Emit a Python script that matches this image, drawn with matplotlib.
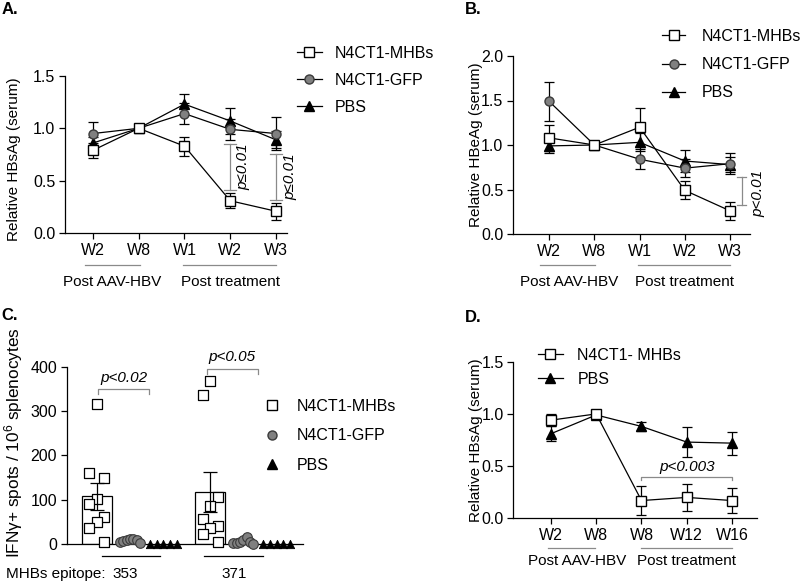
import matplotlib
matplotlib.use('Agg')
import matplotlib.pyplot as plt
from matplotlib.lines import Line2D
import numpy as np

plt.rcParams['font.family'] = ['Liberation Sans', 'DejaVu Sans']
plt.rcParams['mathtext.fontset'] = 'custom'
plt.rcParams['mathtext.rm'] = 'Liberation Sans'
plt.rcParams['mathtext.it'] = 'Liberation Sans:italic'

# ---------------- data ----------------
weeks_ab = ['W2', 'W8', 'W1', 'W2', 'W3']
weeks_d = ['W2', 'W8', 'W8', 'W12', 'W16']
series_names = ['N4CT1-MHBs', 'N4CT1-GFP', 'PBS']

# Panel A: relative HBsAg
a_mhbs = [0.79, 1.00, 0.83, 0.31, 0.21]
a_mhbs_err = [0.07, 0.00, 0.09, 0.07, 0.08]
a_gfp = [0.95, 1.00, 1.14, 0.99, 0.95]
a_gfp_err = [0.11, 0.00, 0.10, 0.10, 0.16]
a_pbs = [0.86, 1.00, 1.23, 1.07, 0.89]
a_pbs_err = [0.06, 0.00, 0.10, 0.12, 0.08]

# Panel B: relative HBeAg
b_mhbs = [1.08, 1.00, 1.20, 0.49, 0.26]
b_mhbs_err = [0.15, 0.00, 0.22, 0.10, 0.10]
b_gfp = [1.49, 1.00, 0.84, 0.74, 0.79]
b_gfp_err = [0.22, 0.00, 0.11, 0.10, 0.12]
b_pbs = [0.99, 1.00, 1.03, 0.82, 0.78]
b_pbs_err = [0.08, 0.00, 0.10, 0.12, 0.08]

# Panel C: IFNg+ spots / 1e6 splenocytes
c_mhbs_353 = [315, 161, 150, 101, 90, 61, 50, 35, 5]
c_gfp_353 = [4, 6, 10, 11, 12, 8, 2]
c_pbs_353 = [0, 0, 0, 0, 0]
c_mhbs_371 = [368, 336, 105, 86, 56, 41, 35, 22, 4]
c_gfp_371 = [2, 3, 5, 8, 15, 4, 1]
c_pbs_371 = [0, 0, 0, 0, 0]
epitopes = ['353', '371']

# Panel D: relative HBsAg, long term
d_mhbs = [0.94, 1.00, 0.17, 0.20, 0.17]
d_mhbs_err = [0.06, 0.00, 0.14, 0.13, 0.12]
d_pbs = [0.81, 0.99, 0.88, 0.73, 0.72]
d_pbs_err = [0.07, 0.00, 0.04, 0.14, 0.11]
d_names = ['N4CT1- MHBs', 'PBS']

# ---------------- figure ----------------
W, H = 800, 583
fig = plt.figure(figsize=(W / 100, H / 100), dpi=100)

TICK = 11.5
LAB = 11
LEG = 11.5
GRAY = '#8a8a8a'
LW = 0.9


def add_ax(l, t, r, b):
    ax = fig.add_axes([l / W, 1 - b / H, (r - l) / W, (b - t) / H])
    ax.spines['top'].set_visible(False)
    ax.spines['right'].set_visible(False)
    for s in ['left', 'bottom']:
        ax.spines[s].set_linewidth(LW)
    ax.tick_params(direction='out', length=4.5, width=LW, labelsize=TICK, pad=2.5)
    ax._hpx = b - t
    return ax


def below(ax, px):
    return -px / ax._hpx


def ftext(x, y, s, **kw):
    fig.text(x / W, 1 - y / H, s, **kw)


styles = [
    dict(marker='s', mfc='white', mec='black', ms=6.5),
    dict(marker='o', mfc='#808080', mec='#3a3a3a', ms=6.5),
    dict(marker='^', mfc='black', mec='black', ms=6.5),
]


def line_series(ax, x, vals, errs, st, z):
    errs = np.array(errs, dtype=float)
    errs[errs == 0] = np.nan
    ax.errorbar(x, vals, yerr=errs, fmt='none', ecolor='black', elinewidth=LW,
                capsize=3.8, capthick=LW, zorder=z)
    ax.plot(x, vals, color='black', lw=LW, zorder=z + 0.5, clip_on=False, **st)


def group_labels(ax, xr1, xr2, c1, c2, dline, dtext):
    tr = ax.get_xaxis_transform()
    for (a, b) in (xr1, xr2):
        ax.plot([a, b], [below(ax, dline)] * 2, color=GRAY, lw=LW, transform=tr, clip_on=False)
    ax.text(c1, below(ax, dtext), 'Post AAV-HBV', transform=tr, ha='center', va='center', fontsize=LAB)
    ax.text(c2, below(ax, dtext), 'Post treatment', transform=tr, ha='center', va='center', fontsize=LAB)


def legend_handles(sts, line=True):
    hs = []
    for st in sts:
        if line:
            hs.append(Line2D([], [], color='black', lw=LW, **st))
        else:
            hs.append(Line2D([], [], ls='none', **st))
    return hs


def vbracket(ax, x, y0, y1, capw=0.12):
    ax.plot([x, x], [y0, y1], color=GRAY, lw=LW, clip_on=False)
    for y in (y0, y1):
        ax.plot([x - capw, x + capw], [y, y], color=GRAY, lw=LW, clip_on=False)


xs = np.arange(5)

# ---------- Panel A ----------
axA = add_ax(65, 75.8, 287, 233.3)
axA.set_xlim(-0.61, 4.24)
axA.set_ylim(0, 1.5)
axA.set_yticks([0, 0.5, 1.0, 1.5])
axA.set_yticklabels(['0.0', '0.5', '1.0', '1.5'])
axA.set_xticks(xs)
axA.set_xticklabels(weeks_ab)
line_series(axA, xs, a_pbs, a_pbs_err, styles[2], 3)
line_series(axA, xs, a_gfp, a_gfp_err, styles[1], 4)
line_series(axA, xs, a_mhbs, a_mhbs_err, styles[0], 5)
axA.set_ylabel('Relative HBsAg (serum)', fontsize=LAB)
axA.yaxis.set_label_coords(-0.198, 0.47)
vbracket(axA, 3, 0.41, 0.85, 0.13)
vbracket(axA, 4, 0.32, 0.76, 0.13)
axA.text(3.28, 0.635, 'p≤0.01', rotation=90, style='italic', fontsize=LAB,
         ha='center', va='center', clip_on=False)
axA.text(4.32, 0.54, 'p≤0.01', rotation=90, style='italic', fontsize=LAB,
         ha='center', va='center', clip_on=False)
group_labels(axA, (-0.17, 1.03), (1.97, 4.0), 0.43, 3.0, 32, 49)
axA.legend(legend_handles(styles), series_names, loc='upper left',
           bbox_to_anchor=(297 / W, 1 - 46 / H), bbox_transform=fig.transFigure,
           frameon=False, fontsize=LEG, handlelength=1.56, handletextpad=0.8,
           labelspacing=0.74, borderpad=0, borderaxespad=0)

# ---------- Panel B ----------
axB = add_ax(513, 56, 750, 234)
axB.set_xlim(-0.8, 4.44)
axB.set_ylim(0, 2.0)
axB.set_yticks([0, 0.5, 1.0, 1.5, 2.0])
axB.set_yticklabels(['0.0', '0.5', '1.0', '1.5', '2.0'])
axB.set_xticks(xs)
axB.set_xticklabels(weeks_ab)
line_series(axB, xs, b_pbs, b_pbs_err, styles[2], 3)
line_series(axB, xs, b_gfp, b_gfp_err, styles[1], 4)
line_series(axB, xs, b_mhbs, b_mhbs_err, styles[0], 5)
axB.set_ylabel('Relative HBeAg (serum)', fontsize=LAB)
axB.yaxis.set_label_coords(-0.127, 0.5)
vbracket(axB, 4.26, 0.33, 0.64, 0.1)
axB.text(4.62, 0.46, 'p<0.01', rotation=90, style='italic', fontsize=LAB,
         ha='center', va='center', clip_on=False)
group_labels(axB, (-0.2, 1.02), (1.97, 4.0), 0.43, 3.0, 31, 48)
axB.legend(legend_handles(styles), series_names, loc='upper left',
           bbox_to_anchor=(662 / W, 1 - 29 / H), bbox_transform=fig.transFigure,
           frameon=False, fontsize=LEG, handlelength=1.45, handletextpad=1.05,
           labelspacing=0.82, borderpad=0, borderaxespad=0)

# ---------- Panel C ----------
axC = add_ax(66.7, 366.7, 303, 544)
axC.set_xlim(-0.9, 6.19)
axC.set_ylim(0, 400)
axC.set_yticks([0, 100, 200, 300, 400])
axC.set_xticks([])
axC.set_ylabel('IFNγ+ spots / 10$^{6}$ splenocytes', fontsize=12.4)
axC.yaxis.set_label_coords(-0.178, 0.57)


def spread(vals):
    vals = np.asarray(vals, dtype=float)
    n = len(vals)
    if vals.max() - vals.min() < 30:
        half = 0.3 if n > 5 else 0.4
        return np.linspace(-half, half, n)
    order = np.argsort(-vals, kind='stable')
    cols = [0, -1, 1]
    off = np.zeros(n)
    for rank, i in enumerate(order):
        off[i] = cols[rank % 3] * 0.225
    return off


groups_c = [
    (0.0, c_mhbs_353, c_gfp_353, c_pbs_353),
    (3.4, c_mhbs_371, c_gfp_371, c_pbs_371),
]
c_styles = [
    dict(marker='s', facecolor='white', edgecolor='black', s=42, linewidths=0.9),
    dict(marker='o', facecolor='#808080', edgecolor='#3a3a3a', s=48, linewidths=0.8),
    dict(marker='^', facecolor='black', edgecolor='black', s=36, linewidths=0.6),
]
for g0, m, gf, pb in groups_c:
    m = np.asarray(m, dtype=float)
    mean = m.mean()
    sem = m.std(ddof=1) / np.sqrt(len(m))
    axC.bar(g0, mean, width=0.9, color='white', edgecolor='black', linewidth=LW, zorder=2)
    axC.errorbar(g0, mean, yerr=sem, fmt='none', ecolor='black', elinewidth=LW,
                 capsize=4.7, capthick=LW, zorder=4)
    for k, vals in enumerate([m, gf, pb]):
        xpos = g0 + k + spread(vals)
        axC.scatter(xpos, vals, zorder=3 + k * 0.1, clip_on=False, **c_styles[k])

# significance brackets
for (xa, xb, yb, ytk, lab, yt) in [(0.04, 1.57, 350, 338, 'p<0.02', 358),
                                     (3.3, 4.84, 395, 384, 'p<0.05', 405)]:
    axC.plot([xa, xa, xb, xb], [ytk, yb, yb, ytk], color=GRAY, lw=LW, clip_on=False)
    axC.text((xa + xb) / 2, yt, lab, style='italic', fontsize=LAB, ha='center',
             va='bottom', clip_on=False)

trC = axC.get_xaxis_transform()
for (a, b) in [(0.15, 1.9), (3.22, 5.0)]:
    axC.plot([a, b], [below(axC, 12)] * 2, color='black', lw=LW, transform=trC, clip_on=False)
axC.text(0.85, below(axC, 30), epitopes[0], transform=trC, ha='center', va='center', fontsize=LAB)
axC.text(4.12, below(axC, 30), epitopes[1], transform=trC, ha='center', va='center', fontsize=LAB)
ftext(6, 574, 'MHBs epitope:', ha='left', va='center', fontsize=LAB)

leg_c = [Line2D([], [], ls='none', marker='s', mfc='white', mec='black', ms=6.5),
         Line2D([], [], ls='none', marker='o', mfc='#808080', mec='#3a3a3a', ms=6.5),
         Line2D([], [], ls='none', marker='^', mfc='black', mec='black', ms=6.5)]
axC.legend(leg_c, series_names, loc='upper left',
           bbox_to_anchor=(265 / W, 1 - 399 / H), bbox_transform=fig.transFigure,
           frameon=False, fontsize=LEG, handlelength=0.9, handletextpad=1.1,
           labelspacing=0.9, borderpad=0, borderaxespad=0)

# ---------- Panel D ----------
axD = add_ax(513.3, 361.7, 757, 518.3)
axD.set_xlim(-0.83, 4.55)
axD.set_ylim(0, 1.5)
axD.set_yticks([0, 0.5, 1.0, 1.5])
axD.set_yticklabels(['0.0', '0.5', '1.0', '1.5'])
axD.set_xticks(xs)
axD.set_xticklabels(weeks_d)
line_series(axD, xs, d_pbs, d_pbs_err, styles[2], 3)
line_series(axD, xs, d_mhbs, d_mhbs_err, styles[0], 5)
axD.set_ylabel('Relative HBsAg (serum)', fontsize=LAB)
axD.yaxis.set_label_coords(-0.124, 0.5)
axD.plot([2, 2, 4, 4], [0.37, 0.40, 0.40, 0.37], color=GRAY, lw=LW)
axD.text(3.0, 0.42, 'p<0.003', style='italic', fontsize=LAB, ha='center', va='bottom')
group_labels(axD, (-0.07, 0.98), (2.0, 4.0), 0.57, 3.0, 30, 43)
axD.legend(legend_handles([styles[0], styles[2]]), d_names, loc='upper left',
           bbox_to_anchor=(538 / W, 1 - 348 / H), bbox_transform=fig.transFigure,
           frameon=False, fontsize=LEG, handlelength=1.56, handletextpad=0.9,
           labelspacing=0.56, borderpad=0, borderaxespad=0)

# panel letters
for (x, y, s) in [(2, 10, 'A.'), (465, 10, 'B.'), (1, 315, 'C.'), (465, 317, 'D.')]:
    ftext(x, y, s, ha='left', va='center', fontsize=12, fontweight='bold')

fig.savefig('out.png', dpi=100)
